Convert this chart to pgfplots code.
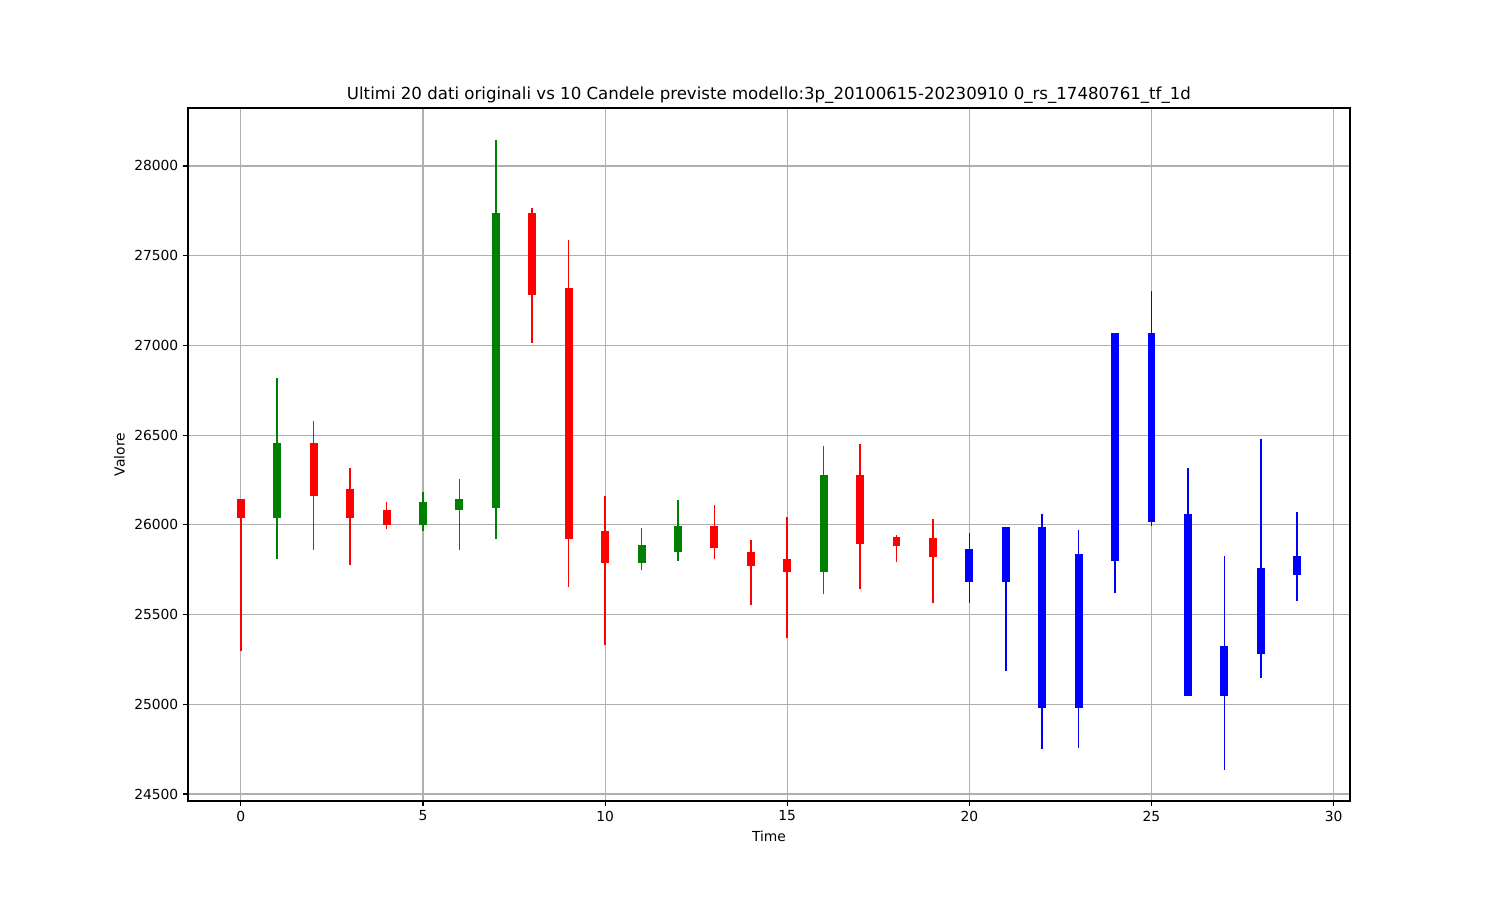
\documentclass[border=0pt]{standalone}
\usepackage{fontspec}
\setmainfont{DejaVu Sans}
\usepackage{pgfplots}
\usepackage{pgfplotstable}
\pgfplotsset{compat=1.18}

\definecolor{mplred}{HTML}{FF0000}
\definecolor{mplgreen}{HTML}{008000}
\definecolor{mplblue}{HTML}{0000FF}
\definecolor{gridgray}{HTML}{B0B0B0}

% x lo hi bot top
\pgfplotstableread{
x lo hi bot top
0 25297 26146 26037 26146
2 25858 26576 26159 26455
3 25774 26317 26037 26202
4 25979 26127 25998 26081
8 27013 27766 27279 27739
9 25653 27588 25920 27321
10 25331 26158 25786 25963
13 25807 26110 25870 25991
14 25556 25913 25770 25846
15 25369 26041 25736 25812
17 25642 26448 25892 26275
18 25792 25946 25881 25935
19 25564 26035 25820 25924
}\redtab

\pgfplotstableread{
x lo hi bot top
1 25809 26821 26037 26455
5 25966 26182 25998 26127
6 25858 26253 26083 26142
7 25920 28146 26096 27739
11 25747 25985 25786 25890
12 25798 26136 25848 25991
16 25614 26442 25736 26275
}\greentab

\pgfplotstableread{
x lo hi bot top
20 25564 25952 25681 25863
21 25185 25987 25681 25987
22 24750 26058 24979 25987
23 24756 25974 24979 25840
24 25619 27071 25798 27071
25 25993 27305 26015 27071
26 25046 26319 25046 26058
27 24633 25824 25046 25322
28 25146 26481 25279 25762
29 25578 26069 25720 25829
}\bluetab

\pgfplotsset{
  wick/.style={color=#1, draw=none, mark=none, forget plot,
    error bars/.cd, y dir=plus, y explicit, error mark=none,
    error bar style={line width=1.1pt, draw=#1, solid}},
  body/.style={color=#1, draw=none, mark=none, forget plot,
    error bars/.cd, y dir=plus, y explicit, error mark=none,
    error bar style={line width=5.76pt, draw=#1, line cap=butt, solid}},
}

\begin{document}
\begin{tikzpicture}
\path[use as bounding box] (0,0) rectangle (15in,9in);
\begin{axis}[
  at={(1.88in,0.99in)}, anchor=south west,
  scale only axis, width=11.62in, height=6.93in,
  xmin=-1.45, xmax=30.45,
  ymin=24461, ymax=28323,
  xtick={0,5,...,30},
  ytick={24500,25000,...,28000},
  scaled ticks=false,
  xtick pos=left, ytick pos=left,
  tick align=outside,
  major tick length=3.5pt,
  tick style={black, line width=0.8pt},
  axis line style={black, line width=0.8pt},
  grid=major,
  major grid style={gridgray, line width=0.8pt},
  /pgf/number format/assume math mode=true,
  /pgf/number format/1000 sep={},
  /pgf/number format/fixed,
  ticklabel style={font=\fontsize{10}{12}\selectfont},
  label style={font=\fontsize{10}{12}\selectfont},
  xlabel={Time}, ylabel={Valore},
  title={Ultimi 20 dati originali vs 10 Candele previste modello:3p\_20100615-20230910 0\_rs\_17480761\_tf\_1d},
  title style={font=\fontsize{12}{14}\selectfont, yshift=-6.5pt},
  clip=true,
]
\addplot[wick=mplred] table[x=x, y=lo, y error plus expr=\thisrow{hi}-\thisrow{lo}] {\redtab};
\addplot[body=mplred] table[x=x, y=bot, y error plus expr=\thisrow{top}-\thisrow{bot}] {\redtab};
\addplot[wick=mplgreen] table[x=x, y=lo, y error plus expr=\thisrow{hi}-\thisrow{lo}] {\greentab};
\addplot[body=mplgreen] table[x=x, y=bot, y error plus expr=\thisrow{top}-\thisrow{bot}] {\greentab};
\addplot[wick=mplblue] table[x=x, y=lo, y error plus expr=\thisrow{hi}-\thisrow{lo}] {\bluetab};
\addplot[body=mplblue] table[x=x, y=bot, y error plus expr=\thisrow{top}-\thisrow{bot}] {\bluetab};
\end{axis}
\end{tikzpicture}
\end{document}
